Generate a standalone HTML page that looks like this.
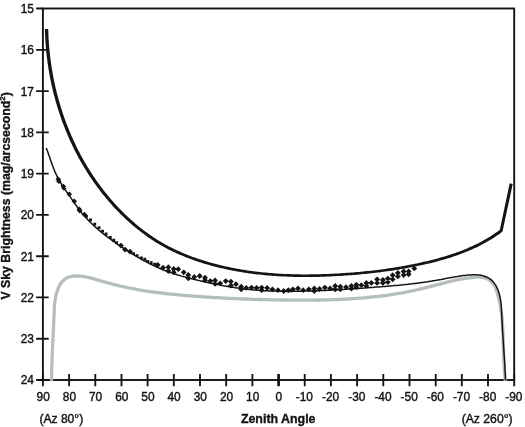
<!DOCTYPE html><html><head><meta charset="utf-8"><title>V Sky Brightness vs Zenith Angle</title>
<style>html,body{margin:0;padding:0;background:#fff}svg{display:block}text{font-family:"Liberation Sans",Arial,Helvetica,sans-serif;fill:#141414;stroke:#141414;stroke-width:.4px}</style></head><body>
<svg width="525" height="427" viewBox="0 0 525 427">
<rect width="525" height="427" fill="#fff"/>
<rect x="42.9" y="8.5" width="471.3" height="371.5" fill="none" stroke="#141414" stroke-width="1.9"/>
<path d="M51.6,380.8 L51.6,379.2 L51.6,377.6 L51.6,376.0 L51.6,374.4 L51.7,372.8 L51.7,371.2 L51.7,369.6 L51.8,368.0 L51.8,366.4 L51.9,364.8 L51.9,363.2 L52.0,361.6 L52.0,360.0 L52.1,358.4 L52.2,356.8 L52.2,355.2 L52.3,353.6 L52.4,352.0 L52.4,350.4 L52.5,348.8 L52.6,347.2 L52.7,345.7 L52.7,344.1 L52.8,342.5 L52.9,340.9 L53.0,339.3 L53.0,337.7 L53.1,336.1 L53.2,334.5 L53.3,332.9 L53.3,331.3 L53.4,329.7 L53.5,328.1 L53.6,326.5 L53.6,324.9 L53.7,323.3 L53.8,321.7 L53.8,320.1 L53.9,318.5 L54.0,316.9 L54.0,315.3 L54.1,313.7 L54.2,312.1 L54.2,310.5 L54.3,308.9 L54.4,307.3 L54.5,305.7 L54.6,304.1 L54.8,302.5 L55.0,300.9 L55.2,299.3 L55.5,297.7 L55.8,296.2 L56.2,294.6 L56.6,293.1 L57.0,291.5 L57.6,290.0 L58.2,288.5 L58.9,287.0 L59.6,285.5 L60.4,284.1 L61.3,282.8 L62.3,281.5 L63.4,280.4 L64.6,279.4 L65.8,278.5 L67.2,277.8 L68.6,277.2 L70.1,276.7 L71.7,276.4 L73.3,276.2 L74.9,276.0 L76.5,276.0 L78.1,276.0 L79.7,276.1 L81.3,276.2 L82.9,276.4 L84.5,276.7 L86.1,277.0 L87.6,277.3 L89.2,277.6 L90.8,278.0 L92.3,278.4 L93.9,278.9 L95.4,279.3 L97.0,279.8 L98.5,280.2 L100.1,280.7 L101.6,281.1 L103.1,281.6 L104.7,282.0 L106.2,282.4 L107.8,282.8 L109.3,283.3 L110.9,283.7 L112.4,284.1 L113.9,284.5 L115.5,284.9 L117.0,285.2 L118.6,285.6 L120.1,286.0 L121.7,286.3 L123.3,286.7 L124.8,287.0 L126.4,287.4 L127.9,287.7 L129.5,288.0 L131.1,288.3 L132.6,288.6 L134.2,288.9 L135.8,289.2 L137.3,289.5 L138.9,289.8 L140.5,290.1 L142.0,290.3 L143.6,290.6 L145.2,290.8 L146.8,291.1 L148.4,291.3 L149.9,291.5 L151.5,291.8 L153.1,292.0 L154.7,292.2 L156.3,292.4 L157.9,292.6 L159.5,292.8 L161.1,293.0 L162.6,293.2 L164.2,293.4 L165.8,293.6 L167.4,293.8 L169.0,293.9 L170.6,294.1 L172.2,294.3 L173.8,294.4 L175.4,294.6 L177.0,294.7 L178.6,294.9 L180.2,295.0 L181.8,295.2 L183.4,295.3 L185.0,295.4 L186.6,295.6 L188.2,295.7 L189.8,295.8 L191.4,295.9 L193.0,296.1 L194.6,296.2 L196.2,296.3 L197.8,296.4 L199.4,296.5 L201.0,296.6 L202.6,296.8 L204.2,296.9 L205.7,297.0 L207.3,297.1 L208.9,297.2 L210.5,297.3 L212.1,297.4 L213.7,297.5 L215.3,297.6 L216.9,297.7 L218.5,297.7 L220.1,297.8 L221.7,297.9 L223.3,298.0 L224.9,298.1 L226.5,298.2 L228.1,298.3 L229.7,298.3 L231.2,298.4 L232.8,298.5 L234.4,298.6 L236.0,298.6 L237.6,298.7 L239.2,298.8 L240.8,298.8 L242.4,298.9 L244.0,299.0 L245.6,299.0 L247.2,299.1 L248.8,299.1 L250.4,299.2 L252.0,299.3 L253.5,299.3 L255.1,299.4 L256.7,299.4 L258.3,299.5 L259.9,299.5 L261.5,299.5 L263.1,299.6 L264.7,299.6 L266.3,299.7 L267.9,299.7 L269.5,299.7 L271.1,299.8 L272.7,299.8 L274.3,299.8 L275.9,299.9 L277.5,299.9 L279.1,299.9 L280.7,300.0 L282.3,300.0 L283.9,300.0 L285.5,300.0 L287.1,300.0 L288.7,300.1 L290.3,300.1 L291.9,300.1 L293.5,300.1 L295.1,300.1 L296.7,300.1 L298.3,300.1 L299.9,300.1 L301.5,300.1 L303.1,300.1 L304.7,300.1 L306.3,300.1 L307.9,300.1 L309.5,300.1 L311.1,300.1 L312.7,300.1 L314.3,300.1 L315.9,300.1 L317.5,300.0 L319.1,300.0 L320.7,300.0 L322.3,299.9 L323.9,299.9 L325.5,299.9 L327.1,299.8 L328.7,299.8 L330.3,299.7 L332.0,299.7 L333.6,299.6 L335.2,299.6 L336.8,299.5 L338.4,299.5 L340.0,299.4 L341.6,299.3 L343.2,299.2 L344.8,299.2 L346.4,299.1 L348.0,299.0 L349.6,298.9 L351.2,298.8 L352.8,298.7 L354.4,298.6 L356.0,298.5 L357.6,298.4 L359.2,298.2 L360.8,298.1 L362.4,298.0 L364.0,297.8 L365.5,297.7 L367.1,297.5 L368.7,297.4 L370.3,297.2 L371.9,297.1 L373.5,296.9 L375.1,296.7 L376.7,296.6 L378.3,296.4 L379.9,296.2 L381.4,296.0 L383.0,295.8 L384.6,295.6 L386.2,295.4 L387.8,295.1 L389.3,294.9 L390.9,294.7 L392.5,294.4 L394.1,294.2 L395.7,293.9 L397.2,293.7 L398.8,293.4 L400.4,293.1 L401.9,292.9 L403.5,292.6 L405.1,292.3 L406.6,292.0 L408.2,291.7 L409.8,291.4 L411.3,291.0 L412.9,290.7 L414.4,290.4 L416.0,290.0 L417.5,289.7 L419.1,289.3 L420.6,288.9 L422.2,288.6 L423.7,288.2 L425.3,287.8 L426.8,287.4 L428.4,287.0 L429.9,286.6 L431.5,286.2 L433.0,285.8 L434.6,285.4 L436.1,285.0 L437.6,284.6 L439.2,284.2 L440.7,283.8 L442.3,283.4 L443.8,283.0 L445.4,282.6 L446.9,282.2 L448.5,281.8 L450.1,281.4 L451.6,281.1 L453.2,280.7 L454.8,280.4 L456.3,280.1 L457.9,279.7 L459.5,279.4 L461.1,279.1 L462.7,278.8 L464.3,278.6 L465.9,278.3 L467.5,278.1 L469.1,277.9 L470.7,277.6 L472.3,277.5 L473.9,277.3 L475.5,277.2 L477.2,277.1 L478.8,277.1 L480.3,277.2 L481.9,277.3 L483.4,277.6 L484.9,278.0 L486.3,278.5 L487.7,279.1 L489.0,279.9 L490.3,280.8 L491.4,281.9 L492.6,283.1 L493.5,284.4 L494.4,285.8 L495.2,287.2 L495.8,288.7 L496.4,290.2 L496.9,291.8 L497.4,293.3 L497.8,294.9 L498.3,296.5 L498.7,298.0 L499.0,299.6 L499.4,301.2 L499.7,302.7 L500.0,304.3 L500.3,305.9 L500.6,307.5 L500.8,309.0 L501.1,310.6 L501.3,312.2 L501.5,313.8 L501.7,315.4 L501.9,317.0 L502.0,318.5 L502.2,320.1 L502.3,321.7 L502.4,323.3 L502.5,324.9 L502.6,326.5 L502.7,328.1 L502.8,329.7 L502.9,331.3 L502.9,332.9 L503.0,334.5 L503.1,336.1 L503.1,337.7 L503.2,339.3 L503.2,340.9 L503.2,342.5 L503.3,344.1 L503.3,345.7 L503.4,347.3 L503.4,348.9 L503.4,350.5 L503.5,352.1 L503.5,353.7 L503.6,355.3 L503.6,356.9 L503.7,358.5 L503.7,360.1 L503.8,361.7 L503.9,363.3 L504.0,364.9 L504.1,366.5 L504.2,368.1 L504.3,369.6 L504.4,371.2 L504.5,372.8 L504.7,374.4 L504.9,376.0 L505.0,377.6 L505.2,379.2 L505.4,380.8" fill="none" stroke="#b4bebe" stroke-width="3.3" stroke-linejoin="round"/>
<path d="M46.3,148.0 L46.8,149.4 L47.3,150.9 L47.9,152.3 L48.4,153.7 L48.9,155.2 L49.4,156.6 L49.9,158.1 L50.4,159.5 L50.9,161.0 L51.4,162.4 L51.9,163.9 L52.4,165.3 L53.0,166.7 L53.5,168.2 L54.1,169.6 L54.7,171.0 L55.2,172.4 L55.9,173.8 L56.5,175.2 L57.2,176.6 L57.8,177.9 L58.6,179.3 L59.3,180.6 L60.1,181.9 L60.9,183.2 L61.7,184.5 L62.5,185.8 L63.4,187.1 L64.2,188.3 L65.1,189.6 L66.0,190.8 L66.8,192.1 L67.7,193.3 L68.6,194.6 L69.5,195.8 L70.4,197.1 L71.2,198.4 L72.1,199.6 L73.0,200.9 L73.8,202.2 L74.7,203.4 L75.6,204.7 L76.5,205.9 L77.4,207.2 L78.3,208.4 L79.2,209.6 L80.1,210.8 L81.1,212.0 L82.0,213.2 L83.0,214.4 L84.0,215.5 L85.0,216.7 L86.0,217.8 L87.1,218.9 L88.1,220.0 L89.2,221.1 L90.3,222.2 L91.3,223.2 L92.4,224.3 L93.5,225.3 L94.7,226.4 L95.8,227.4 L96.9,228.4 L98.1,229.4 L99.2,230.4 L100.4,231.4 L101.6,232.4 L102.8,233.3 L104.0,234.3 L105.2,235.2 L106.4,236.2 L107.6,237.1 L108.8,238.0 L110.1,238.9 L111.3,239.8 L112.5,240.7 L113.8,241.6 L115.0,242.5 L116.3,243.4 L117.6,244.3 L118.8,245.1 L120.1,246.0 L121.4,246.9 L122.7,247.7 L123.9,248.6 L125.2,249.4 L126.5,250.3 L127.8,251.1 L129.1,251.9 L130.4,252.7 L131.7,253.5 L133.0,254.3 L134.3,255.1 L135.6,255.9 L136.9,256.7 L138.3,257.5 L139.6,258.2 L140.9,259.0 L142.3,259.8 L143.6,260.5 L144.9,261.2 L146.3,261.9 L147.6,262.6 L149.0,263.3 L150.3,264.0 L151.7,264.7 L153.1,265.4 L154.5,266.0 L155.8,266.7 L157.2,267.3 L158.6,267.9 L160.0,268.5 L161.4,269.1 L162.8,269.7 L164.2,270.2 L165.7,270.8 L167.1,271.3 L168.5,271.8 L170.0,272.4 L171.4,272.9 L172.8,273.3 L174.3,273.8 L175.8,274.3 L177.2,274.8 L178.7,275.2 L180.1,275.6 L181.6,276.1 L183.1,276.5 L184.6,276.9 L186.0,277.3 L187.5,277.7 L189.0,278.1 L190.5,278.5 L192.0,278.8 L193.5,279.2 L195.0,279.6 L196.4,279.9 L197.9,280.3 L199.4,280.6 L200.9,281.0 L202.4,281.3 L203.9,281.7 L205.4,282.0 L206.9,282.3 L208.4,282.7 L209.9,283.0 L211.4,283.3 L212.9,283.6 L214.4,283.9 L215.9,284.2 L217.4,284.5 L218.9,284.8 L220.4,285.1 L221.9,285.4 L223.4,285.7 L224.9,285.9 L226.4,286.2 L227.9,286.5 L229.4,286.7 L231.0,287.0 L232.5,287.2 L234.0,287.4 L235.5,287.7 L237.0,287.9 L238.5,288.1 L240.0,288.3 L241.5,288.5 L243.0,288.7 L244.6,288.9 L246.1,289.1 L247.6,289.3 L249.1,289.4 L250.6,289.6 L252.1,289.7 L253.7,289.9 L255.2,290.0 L256.7,290.1 L258.2,290.3 L259.8,290.4 L261.3,290.5 L262.8,290.6 L264.3,290.7 L265.9,290.8 L267.4,290.8 L268.9,290.9 L270.4,291.0 L272.0,291.0 L273.5,291.1 L275.0,291.1 L276.5,291.2 L278.1,291.2 L279.6,291.3 L281.1,291.3 L282.7,291.3 L284.2,291.3 L285.7,291.3 L287.2,291.4 L288.8,291.4 L290.3,291.4 L291.8,291.4 L293.4,291.3 L294.9,291.3 L296.4,291.3 L298.0,291.3 L299.5,291.3 L301.0,291.2 L302.6,291.2 L304.1,291.2 L305.6,291.1 L307.1,291.1 L308.7,291.0 L310.2,291.0 L311.7,290.9 L313.3,290.9 L314.8,290.8 L316.3,290.8 L317.8,290.7 L319.4,290.7 L320.9,290.6 L322.4,290.5 L324.0,290.5 L325.5,290.4 L327.0,290.3 L328.5,290.2 L330.1,290.2 L331.6,290.1 L333.1,290.0 L334.6,289.9 L336.2,289.8 L337.7,289.7 L339.2,289.7 L340.7,289.6 L342.2,289.5 L343.8,289.4 L345.3,289.3 L346.8,289.2 L348.3,289.1 L349.9,289.0 L351.4,288.9 L352.9,288.8 L354.4,288.7 L356.0,288.6 L357.5,288.5 L359.0,288.4 L360.5,288.3 L362.0,288.2 L363.6,288.1 L365.1,287.9 L366.6,287.8 L368.1,287.7 L369.7,287.6 L371.2,287.5 L372.7,287.4 L374.2,287.3 L375.8,287.1 L377.3,287.0 L378.8,286.9 L380.4,286.8 L381.9,286.7 L383.4,286.5 L384.9,286.4 L386.5,286.3 L388.0,286.2 L389.5,286.0 L391.1,285.9 L392.6,285.8 L394.1,285.6 L395.6,285.5 L397.2,285.4 L398.7,285.2 L400.2,285.1 L401.8,284.9 L403.3,284.8 L404.8,284.6 L406.3,284.4 L407.9,284.3 L409.4,284.1 L410.9,283.9 L412.4,283.8 L413.9,283.6 L415.5,283.4 L417.0,283.2 L418.5,283.0 L420.0,282.8 L421.5,282.6 L423.0,282.4 L424.5,282.2 L426.0,282.0 L427.5,281.8 L429.0,281.5 L430.5,281.3 L432.0,281.1 L433.5,280.8 L435.0,280.5 L436.5,280.3 L438.0,280.0 L439.5,279.7 L441.0,279.5 L442.4,279.2 L443.9,278.9 L445.4,278.6 L446.9,278.3 L448.4,278.1 L449.9,277.8 L451.4,277.5 L452.9,277.2 L454.4,277.0 L455.9,276.7 L457.4,276.5 L459.0,276.2 L460.5,276.0 L462.0,275.8 L463.6,275.6 L465.1,275.4 L466.7,275.2 L468.3,275.1 L469.9,275.0 L471.4,274.9 L473.0,274.8 L474.6,274.8 L476.1,274.8 L477.7,274.9 L479.2,275.1 L480.7,275.3 L482.2,275.6 L483.7,276.0 L485.1,276.5 L486.5,277.0 L487.9,277.6 L489.1,278.4 L490.4,279.2 L491.5,280.1 L492.5,281.1 L493.5,282.2 L494.4,283.4 L495.3,284.6 L496.1,285.9 L496.8,287.3 L497.4,288.7 L498.0,290.1 L498.5,291.6 L499.0,293.0 L499.4,294.5 L499.8,296.0 L500.1,297.5 L500.4,299.0 L500.6,300.5 L500.9,302.1 L501.0,303.6 L501.2,305.2 L501.3,306.7 L501.4,308.2 L501.5,309.8 L501.6,311.4 L501.7,312.9 L501.7,314.5 L501.8,316.0 L501.9,317.5 L501.9,319.1 L502.0,320.6 L502.1,322.2 L502.2,323.7 L502.3,325.2 L502.3,326.7 L502.4,328.3 L502.5,329.8 L502.6,331.3 L502.7,332.8 L502.8,334.3 L502.9,335.8 L503.0,337.4 L503.1,338.9 L503.2,340.4 L503.3,341.9 L503.4,343.4 L503.5,344.9 L503.6,346.4 L503.7,347.9 L503.8,349.4 L503.9,350.9 L504.0,352.5 L504.1,354.0 L504.2,355.5 L504.3,357.0 L504.4,358.5 L504.5,360.0 L504.6,361.5 L504.7,363.1 L504.8,364.6 L504.9,366.1 L504.9,367.6 L505.0,369.2 L505.1,370.7 L505.2,372.3 L505.3,373.8 L505.3,375.3 L505.4,376.9 L505.4,378.4 L505.5,380.0" fill="none" stroke="#141414" stroke-width="1.5" stroke-linejoin="round"/>
<path d="M44.9,29.1 L44.9,31.1 L45.0,33.1 L45.1,35.2 L45.2,37.2 L45.3,39.2 L45.4,41.3 L45.6,43.3 L45.7,45.3 L45.9,47.4 L46.0,49.4 L46.2,51.4 L46.4,53.4 L46.7,55.5 L46.9,57.5 L47.2,59.5 L47.4,61.5 L47.7,63.6 L48.0,65.6 L48.3,67.6 L48.6,69.6 L49.0,71.6 L49.3,73.6 L49.7,75.7 L50.1,77.7 L50.5,79.7 L50.9,81.7 L51.3,83.7 L51.7,85.7 L52.2,87.7 L52.7,89.7 L53.1,91.6 L53.6,93.6 L54.1,95.6 L54.7,97.6 L55.2,99.6 L55.7,101.5 L56.3,103.5 L56.9,105.5 L57.5,107.4 L58.1,109.4 L58.7,111.3 L59.4,113.3 L60.0,115.2 L60.7,117.2 L61.3,119.1 L62.0,121.0 L62.7,122.9 L63.5,124.8 L64.2,126.8 L65.0,128.7 L65.7,130.6 L66.5,132.4 L67.3,134.3 L68.1,136.2 L68.9,138.1 L69.7,139.9 L70.6,141.8 L71.5,143.7 L72.3,145.5 L73.2,147.3 L74.1,149.2 L75.0,151.0 L76.0,152.8 L76.9,154.6 L77.9,156.4 L78.8,158.2 L79.8,160.0 L80.8,161.8 L81.9,163.6 L82.9,165.3 L83.9,167.1 L85.0,168.8 L86.1,170.6 L87.1,172.3 L88.2,174.0 L89.4,175.7 L90.5,177.4 L91.6,179.1 L92.8,180.8 L93.9,182.5 L95.1,184.1 L96.3,185.8 L97.5,187.4 L98.8,189.1 L100.0,190.7 L101.2,192.3 L102.5,193.9 L103.8,195.5 L105.1,197.1 L106.4,198.7 L107.7,200.2 L109.0,201.8 L110.4,203.3 L111.7,204.8 L113.1,206.4 L114.5,207.9 L115.9,209.3 L117.3,210.8 L118.8,212.3 L120.2,213.7 L121.7,215.2 L123.1,216.6 L124.6,218.0 L126.1,219.4 L127.6,220.8 L129.1,222.2 L130.7,223.5 L132.2,224.9 L133.8,226.2 L135.4,227.5 L136.9,228.8 L138.5,230.1 L140.2,231.3 L141.8,232.6 L143.4,233.8 L145.1,235.0 L146.7,236.2 L148.4,237.4 L150.1,238.5 L151.8,239.7 L153.5,240.8 L155.2,241.9 L157.0,242.9 L158.7,244.0 L160.5,245.0 L162.2,246.0 L164.0,247.0 L165.8,248.0 L167.6,249.0 L169.4,249.9 L171.3,250.8 L173.1,251.7 L175.0,252.6 L176.8,253.4 L178.7,254.2 L180.5,255.0 L182.4,255.8 L184.3,256.6 L186.2,257.4 L188.1,258.1 L190.0,258.8 L191.9,259.5 L193.9,260.2 L195.8,260.9 L197.7,261.5 L199.6,262.2 L201.6,262.8 L203.5,263.4 L205.5,264.0 L207.4,264.6 L209.4,265.1 L211.3,265.7 L213.3,266.2 L215.3,266.7 L217.2,267.2 L219.2,267.7 L221.2,268.2 L223.2,268.6 L225.1,269.1 L227.1,269.5 L229.1,269.9 L231.1,270.3 L233.1,270.7 L235.1,271.1 L237.1,271.4 L239.1,271.8 L241.1,272.1 L243.1,272.5 L245.1,272.8 L247.1,273.1 L249.2,273.4 L251.2,273.6 L253.2,273.9 L255.2,274.2 L257.2,274.4 L259.3,274.6 L261.3,274.8 L263.3,275.1 L265.4,275.2 L267.4,275.4 L269.4,275.6 L271.5,275.8 L273.5,275.9 L275.5,276.1 L277.6,276.2 L279.6,276.3 L281.7,276.4 L283.7,276.5 L285.7,276.6 L287.8,276.7 L289.8,276.8 L291.9,276.8 L293.9,276.9 L296.0,276.9 L298.0,277.0 L300.1,277.0 L302.1,277.0 L304.2,277.0 L306.2,277.0 L308.2,277.0 L310.3,277.0 L312.3,277.0 L314.4,276.9 L316.4,276.9 L318.5,276.9 L320.5,276.8 L322.6,276.7 L324.6,276.7 L326.7,276.6 L328.7,276.5 L330.7,276.4 L332.8,276.3 L334.8,276.2 L336.9,276.1 L338.9,276.0 L340.9,275.9 L343.0,275.8 L345.0,275.6 L347.0,275.5 L349.1,275.3 L351.1,275.2 L353.1,275.0 L355.2,274.9 L357.2,274.7 L359.2,274.5 L361.2,274.3 L363.3,274.1 L365.3,274.0 L367.3,273.7 L369.3,273.5 L371.3,273.3 L373.4,273.1 L375.4,272.8 L377.4,272.6 L379.4,272.4 L381.4,272.1 L383.4,271.8 L385.4,271.6 L387.4,271.3 L389.4,271.0 L391.5,270.7 L393.5,270.4 L395.5,270.1 L397.5,269.7 L399.5,269.4 L401.5,269.1 L403.5,268.7 L405.5,268.4 L407.5,268.0 L409.4,267.6 L411.4,267.2 L413.4,266.8 L415.4,266.4 L417.4,266.0 L419.4,265.6 L421.4,265.2 L423.4,264.7 L425.4,264.3 L427.3,263.8 L429.3,263.4 L431.3,262.9 L433.3,262.4 L435.3,261.9 L437.2,261.4 L439.2,260.8 L441.2,260.3 L443.1,259.7 L445.1,259.2 L447.0,258.6 L449.0,258.0 L450.9,257.4 L452.9,256.7 L454.8,256.1 L456.7,255.4 L458.7,254.7 L460.6,254.0 L462.5,253.3 L464.4,252.6 L466.3,251.8 L468.2,251.1 L470.1,250.3 L471.9,249.5 L473.8,248.6 L475.6,247.8 L477.5,246.9 L479.3,246.0 L481.1,245.1 L483.0,244.1 L484.8,243.1 L486.6,242.1 L488.3,241.1 L490.1,240.1 L491.9,239.0 L493.6,237.9 L495.3,236.7 L497.0,235.6 L498.7,234.4 L500.4,233.2 L502.5,231.6 L512.7,183.9 L509.7,183.3 L499.8,229.9 L498.6,230.7 L497.0,231.9 L495.3,233.1 L493.6,234.2 L492.0,235.3 L490.3,236.4 L488.5,237.5 L486.8,238.5 L485.1,239.5 L483.3,240.5 L481.6,241.5 L479.8,242.4 L478.0,243.4 L476.2,244.3 L474.4,245.1 L472.6,246.0 L470.8,246.8 L468.9,247.6 L467.1,248.4 L465.2,249.2 L463.4,250.0 L461.5,250.7 L459.6,251.4 L457.7,252.1 L455.8,252.8 L453.9,253.5 L452.0,254.1 L450.1,254.7 L448.2,255.3 L446.2,255.9 L444.3,256.5 L442.4,257.1 L440.4,257.6 L438.5,258.2 L436.5,258.7 L434.6,259.2 L432.6,259.7 L430.6,260.2 L428.7,260.7 L426.7,261.2 L424.7,261.6 L422.8,262.1 L420.8,262.5 L418.8,263.0 L416.9,263.4 L414.9,263.8 L412.9,264.2 L410.9,264.6 L408.9,265.0 L407.0,265.3 L405.0,265.7 L403.0,266.1 L401.0,266.4 L399.0,266.8 L397.0,267.1 L395.0,267.4 L393.0,267.7 L391.0,268.0 L389.1,268.3 L387.1,268.6 L385.1,268.9 L383.1,269.2 L381.1,269.4 L379.1,269.7 L377.1,269.9 L375.1,270.2 L373.1,270.4 L371.0,270.7 L369.0,270.9 L367.0,271.1 L365.0,271.3 L363.0,271.5 L361.0,271.7 L359.0,271.9 L357.0,272.0 L354.9,272.2 L352.9,272.4 L350.9,272.5 L348.9,272.7 L346.9,272.8 L344.8,273.0 L342.8,273.1 L340.8,273.2 L338.8,273.4 L336.7,273.5 L334.7,273.6 L332.7,273.7 L330.6,273.8 L328.6,273.9 L326.6,273.9 L324.5,274.0 L322.5,274.1 L320.5,274.2 L318.4,274.2 L316.4,274.3 L314.3,274.3 L312.3,274.3 L310.3,274.3 L308.2,274.4 L306.2,274.4 L304.2,274.4 L302.1,274.4 L300.1,274.3 L298.1,274.3 L296.0,274.3 L294.0,274.2 L291.9,274.2 L289.9,274.1 L287.9,274.0 L285.9,274.0 L283.8,273.9 L281.8,273.8 L279.8,273.7 L277.7,273.5 L275.7,273.4 L273.7,273.3 L271.7,273.1 L269.6,272.9 L267.6,272.8 L265.6,272.6 L263.6,272.4 L261.6,272.2 L259.6,272.0 L257.6,271.7 L255.5,271.5 L253.5,271.2 L251.5,271.0 L249.5,270.7 L247.5,270.4 L245.5,270.1 L243.5,269.8 L241.5,269.5 L239.6,269.1 L237.6,268.8 L235.6,268.4 L233.6,268.0 L231.6,267.7 L229.7,267.3 L227.7,266.8 L225.7,266.4 L223.8,266.0 L221.8,265.5 L219.8,265.0 L217.9,264.6 L215.9,264.1 L214.0,263.5 L212.1,263.0 L210.1,262.5 L208.2,261.9 L206.3,261.3 L204.3,260.7 L202.4,260.1 L200.5,259.5 L198.6,258.9 L196.7,258.2 L194.8,257.6 L192.9,256.9 L191.0,256.2 L189.1,255.5 L187.2,254.8 L185.4,254.0 L183.5,253.2 L181.7,252.4 L179.8,251.6 L178.0,250.8 L176.2,250.0 L174.3,249.1 L172.5,248.2 L170.7,247.3 L169.0,246.4 L167.2,245.5 L165.4,244.5 L163.7,243.5 L161.9,242.5 L160.2,241.5 L158.5,240.5 L156.8,239.4 L155.1,238.3 L153.4,237.2 L151.7,236.1 L150.1,234.9 L148.4,233.8 L146.8,232.6 L145.2,231.4 L143.6,230.2 L142.0,229.0 L140.4,227.7 L138.8,226.5 L137.3,225.2 L135.7,223.9 L134.2,222.6 L132.7,221.3 L131.2,219.9 L129.7,218.6 L128.2,217.2 L126.7,215.8 L125.2,214.4 L123.8,213.0 L122.4,211.6 L120.9,210.1 L119.5,208.7 L118.1,207.2 L116.8,205.8 L115.4,204.3 L114.0,202.8 L112.7,201.3 L111.4,199.7 L110.1,198.2 L108.8,196.7 L107.5,195.1 L106.2,193.5 L105.0,192.0 L103.7,190.4 L102.5,188.8 L101.3,187.2 L100.1,185.6 L98.9,183.9 L97.7,182.3 L96.5,180.7 L95.4,179.0 L94.2,177.3 L93.1,175.7 L92.0,174.0 L90.9,172.3 L89.8,170.6 L88.8,168.9 L87.7,167.2 L86.7,165.4 L85.7,163.7 L84.6,162.0 L83.6,160.2 L82.7,158.5 L81.7,156.7 L80.7,154.9 L79.8,153.1 L78.8,151.3 L77.9,149.5 L77.0,147.7 L76.1,145.9 L75.3,144.1 L74.4,142.3 L73.6,140.4 L72.7,138.6 L71.9,136.8 L71.1,134.9 L70.3,133.1 L69.5,131.2 L68.8,129.3 L68.0,127.4 L67.3,125.6 L66.5,123.7 L65.8,121.8 L65.1,119.9 L64.4,118.0 L63.8,116.1 L63.1,114.2 L62.5,112.2 L61.9,110.3 L61.2,108.4 L60.6,106.5 L60.1,104.5 L59.5,102.6 L58.9,100.6 L58.4,98.7 L57.9,96.7 L57.3,94.8 L56.8,92.8 L56.4,90.9 L55.9,88.9 L55.4,86.9 L55.0,85.0 L54.6,83.0 L54.1,81.0 L53.7,79.0 L53.3,77.0 L53.0,75.1 L52.6,73.1 L52.3,71.1 L51.9,69.1 L51.6,67.1 L51.3,65.1 L51.0,63.1 L50.7,61.1 L50.5,59.1 L50.2,57.1 L50.0,55.1 L49.8,53.1 L49.6,51.1 L49.4,49.1 L49.2,47.1 L49.0,45.1 L48.9,43.1 L48.8,41.1 L48.6,39.0 L48.5,37.0 L48.4,35.0 L48.4,33.0 L48.3,31.0 L48.2,29.0Z" fill="#141414"/>
<path d="M154.8,265.0L157.7,262.1L160.6,265.0L157.7,267.9ZM160.1,267.7L163.0,264.8L165.9,267.7L163.0,270.6ZM165.4,267.2L168.3,264.2L171.2,267.2L168.3,270.1ZM165.4,271.0L168.3,268.1L171.2,271.0L168.3,273.9ZM170.8,269.0L173.7,266.1L176.6,269.0L173.7,271.9ZM170.8,272.3L173.7,269.4L176.6,272.3L173.7,275.2ZM175.4,269.2L178.3,266.2L181.2,269.2L178.3,272.1ZM180.8,272.3L183.7,269.4L186.6,272.3L183.7,275.2ZM185.4,275.0L188.3,272.1L191.2,275.0L188.3,277.9ZM185.4,278.3L188.3,275.4L191.2,278.3L188.3,281.2ZM191.4,277.0L194.3,274.1L197.2,277.0L194.3,279.9ZM196.8,276.0L199.7,273.1L202.6,276.0L199.7,278.9ZM202.1,277.7L205.0,274.8L207.9,277.7L205.0,280.6ZM202.1,280.2L205.0,277.2L207.9,280.2L205.0,283.1ZM207.4,281.1L210.3,278.2L213.2,281.1L210.3,284.1ZM212.2,280.4L215.1,277.4L218.0,280.4L215.1,283.3ZM212.2,283.8L215.1,280.9L218.0,283.8L215.1,286.8ZM217.2,283.3L220.2,280.4L223.1,283.3L220.2,286.2ZM222.8,281.1L225.7,278.2L228.6,281.1L225.7,284.1ZM228.0,281.6L230.9,278.7L233.8,281.6L230.9,284.6ZM228.0,285.5L230.9,282.6L233.8,285.5L230.9,288.4ZM233.1,284.2L236.0,281.2L238.9,284.2L236.0,287.1ZM238.2,286.7L241.2,283.8L244.1,286.7L241.2,289.6ZM238.2,289.3L241.2,286.4L244.1,289.3L241.2,292.2ZM243.4,287.9L246.3,284.9L249.2,287.9L246.3,290.8ZM248.6,287.6L251.5,284.7L254.4,287.6L251.5,290.6ZM253.7,287.9L256.6,284.9L259.6,287.9L256.6,290.8ZM258.8,287.6L261.7,284.7L264.6,287.6L261.7,290.6ZM258.8,290.2L261.7,287.2L264.6,290.2L261.7,293.1ZM264.2,287.9L267.2,284.9L270.1,287.9L267.2,290.8ZM269.4,289.3L272.4,286.4L275.3,289.3L272.4,292.2ZM275.1,290.2L278.0,287.2L280.9,290.2L278.0,293.1ZM280.8,291.0L283.7,288.1L286.6,291.0L283.7,293.9ZM285.4,290.2L288.3,287.2L291.2,290.2L288.3,293.1ZM289.9,289.3L292.9,286.4L295.8,289.3L292.9,292.2ZM295.1,288.4L298.0,285.4L300.9,288.4L298.0,291.3ZM300.2,290.2L303.2,287.2L306.1,290.2L303.2,293.1ZM305.9,289.3L308.8,286.4L311.8,289.3L308.8,292.2ZM311.4,288.4L314.3,285.4L317.2,288.4L314.3,291.3ZM311.4,291.0L314.3,288.1L317.2,291.0L314.3,293.9ZM316.6,289.0L319.5,286.1L322.4,289.0L319.5,291.9ZM321.9,287.6L324.9,284.7L327.8,287.6L324.9,290.6ZM327.2,288.4L330.1,285.4L333.1,288.4L330.1,291.3ZM332.2,285.9L335.2,282.9L338.1,285.9L335.2,288.8ZM332.2,289.3L335.2,286.4L338.1,289.3L335.2,292.2ZM337.4,286.7L340.4,283.8L343.3,286.7L340.4,289.6ZM337.4,289.3L340.4,286.4L343.3,289.3L340.4,292.2ZM343.1,287.2L346.0,284.2L348.9,287.2L346.0,290.1ZM348.4,285.9L351.4,282.9L354.3,285.9L351.4,288.8ZM348.4,288.6L351.4,285.7L354.3,288.6L351.4,291.6ZM353.4,284.7L356.4,281.8L359.3,284.7L356.4,287.6ZM353.4,287.2L356.4,284.2L359.3,287.2L356.4,290.1ZM358.4,285.2L361.4,282.2L364.3,285.2L361.4,288.1ZM363.4,282.9L366.4,279.9L369.3,282.9L366.4,285.8ZM363.4,285.8L366.4,282.9L369.3,285.8L366.4,288.8ZM368.4,282.9L371.4,279.9L374.3,282.9L371.4,285.8ZM374.2,279.3L377.1,276.4L380.1,279.3L377.1,282.2ZM374.2,282.9L377.1,279.9L380.1,282.9L377.1,285.8ZM379.9,280.0L382.9,277.1L385.8,280.0L382.9,282.9ZM379.9,282.9L382.9,279.9L385.8,282.9L382.9,285.8ZM384.9,278.6L387.9,275.7L390.8,278.6L387.9,281.6ZM384.9,282.1L387.9,279.2L390.8,282.1L387.9,285.1ZM389.7,275.2L392.6,272.2L395.6,275.2L392.6,278.1ZM389.7,279.3L392.6,276.4L395.6,279.3L392.6,282.2ZM394.9,272.9L397.9,269.9L400.8,272.9L397.9,275.8ZM394.9,276.4L397.9,273.4L400.8,276.4L397.9,279.3ZM400.7,271.4L403.6,268.4L406.6,271.4L403.6,274.3ZM400.7,275.0L403.6,272.1L406.6,275.0L403.6,277.9ZM405.7,271.4L408.6,268.4L411.6,271.4L408.6,274.3ZM405.7,274.3L408.6,271.4L411.6,274.3L408.6,277.2ZM411.4,268.4L414.3,265.4L417.2,268.4L414.3,271.3ZM118.0,245.6L120.9,242.7L123.9,245.6L120.9,248.5ZM122.1,249.6L125.1,246.7L128.0,249.6L125.1,252.5ZM127.0,251.6L130.0,248.7L132.9,251.6L130.0,254.5ZM55.5,179.3L58.2,176.6L61.0,179.3L58.2,182.1ZM56.1,181.3L58.9,178.6L61.6,181.3L58.9,184.1ZM60.6,186.4L63.4,183.7L66.2,186.4L63.4,189.2ZM61.1,188.0L63.9,185.2L66.7,188.0L63.9,190.8ZM66.5,194.3L69.3,191.6L72.0,194.3L69.3,197.1ZM71.5,201.3L74.3,198.6L77.0,201.3L74.3,204.1ZM76.5,209.3L79.3,206.6L82.0,209.3L79.3,212.1ZM77.0,210.8L79.7,208.1L82.5,210.8L79.7,213.6ZM81.7,214.5L84.4,211.8L87.2,214.5L84.4,217.2ZM85.0,214.9h2.9v2.9h-2.9ZM89.1,218.4h2.9v2.9h-2.9ZM93.3,222.7h2.9v2.9h-2.9ZM97.6,226.2h2.9v2.9h-2.9ZM101.1,229.7h2.9v2.9h-2.9ZM104.6,232.5h2.9v2.9h-2.9ZM108.8,236.0h2.9v2.9h-2.9ZM112.3,238.8h2.9v2.9h-2.9ZM115.1,241.2h2.9v2.9h-2.9ZM132.1,252.2h2.9v2.9h-2.9ZM135.6,254.2h2.9v2.9h-2.9ZM139.9,256.4h2.9v2.9h-2.9ZM143.4,257.8h2.9v2.9h-2.9ZM146.2,259.9h2.9v2.9h-2.9ZM149.7,261.2h2.9v2.9h-2.9ZM153.2,262.7h2.9v2.9h-2.9Z" fill="#141414"/>
<text x="33.9" y="12.9" font-size="11.9" text-anchor="end">15</text>
<text x="33.9" y="54.2" font-size="11.9" text-anchor="end">16</text>
<text x="33.9" y="95.5" font-size="11.9" text-anchor="end">17</text>
<text x="33.9" y="136.7" font-size="11.9" text-anchor="end">18</text>
<text x="33.9" y="178.0" font-size="11.9" text-anchor="end">19</text>
<text x="33.9" y="219.3" font-size="11.9" text-anchor="end">20</text>
<text x="33.9" y="260.6" font-size="11.9" text-anchor="end">21</text>
<text x="33.9" y="301.8" font-size="11.9" text-anchor="end">22</text>
<text x="33.9" y="343.1" font-size="11.9" text-anchor="end">23</text>
<text x="33.9" y="384.4" font-size="11.9" text-anchor="end">24</text>
<path d="M36.1,8.5H42.9M36.1,49.8H48.7M36.1,91.1H48.7M36.1,132.3H48.7M36.1,173.6H48.7M36.1,214.9H48.7M36.1,256.2H48.7M36.1,297.4H48.7M36.1,338.7H48.7M36.1,380.0H48.7M42.9,374.0V386.2M69.1,374.0V386.2M95.3,374.0V386.2M121.5,374.0V386.2M147.6,374.0V386.2M173.8,374.0V386.2M200.0,374.0V386.2M226.2,374.0V386.2M252.4,374.0V386.2M304.7,374.0V386.2M330.9,374.0V386.2M357.1,374.0V386.2M383.3,374.0V386.2M409.5,374.0V386.2M435.7,374.0V386.2M461.8,374.0V386.2M488.0,374.0V386.2M514.2,374.0V386.2" stroke="#141414" stroke-width="1.85" fill="none"/>
<path d="M278.6,374.0V386.2" stroke="#141414" stroke-width="2.7" fill="none"/>
<text x="43.2" y="401.0" font-size="11.9" text-anchor="middle">90</text>
<text x="69.4" y="401.0" font-size="11.9" text-anchor="middle">80</text>
<text x="95.6" y="401.0" font-size="11.9" text-anchor="middle">70</text>
<text x="121.8" y="401.0" font-size="11.9" text-anchor="middle">60</text>
<text x="147.9" y="401.0" font-size="11.9" text-anchor="middle">50</text>
<text x="174.1" y="401.0" font-size="11.9" text-anchor="middle">40</text>
<text x="200.3" y="401.0" font-size="11.9" text-anchor="middle">30</text>
<text x="226.5" y="401.0" font-size="11.9" text-anchor="middle">20</text>
<text x="252.7" y="401.0" font-size="11.9" text-anchor="middle">10</text>
<text x="278.9" y="401.0" font-size="11.9" text-anchor="middle">0</text>
<text x="304.4" y="401.0" font-size="11.9" text-anchor="middle">-10</text>
<text x="330.6" y="401.0" font-size="11.9" text-anchor="middle">-20</text>
<text x="356.8" y="401.0" font-size="11.9" text-anchor="middle">-30</text>
<text x="383.0" y="401.0" font-size="11.9" text-anchor="middle">-40</text>
<text x="409.2" y="401.0" font-size="11.9" text-anchor="middle">-50</text>
<text x="435.4" y="401.0" font-size="11.9" text-anchor="middle">-60</text>
<text x="461.5" y="401.0" font-size="11.9" text-anchor="middle">-70</text>
<text x="487.7" y="401.0" font-size="11.9" text-anchor="middle">-80</text>
<text x="513.9" y="401.0" font-size="11.9" text-anchor="middle">-90</text>
<text x="39.4" y="422.7" font-size="12.1">(Az 80°)</text>
<text x="512.6" y="422.7" font-size="12.2" text-anchor="end">(Az 260°)</text>
<text x="278.2" y="422.5" font-size="12.4" font-weight="bold" text-anchor="middle" style="stroke-width:.35px">Zenith Angle</text>
<text transform="translate(10.2,299.6) rotate(-90)" font-size="12.3" font-weight="bold" style="stroke-width:.35px">V Sky Brightness (mag/arcsecond<tspan font-size="8" dy="-5.3">2</tspan><tspan dy="5.3">)</tspan></text>
</svg></body></html>
